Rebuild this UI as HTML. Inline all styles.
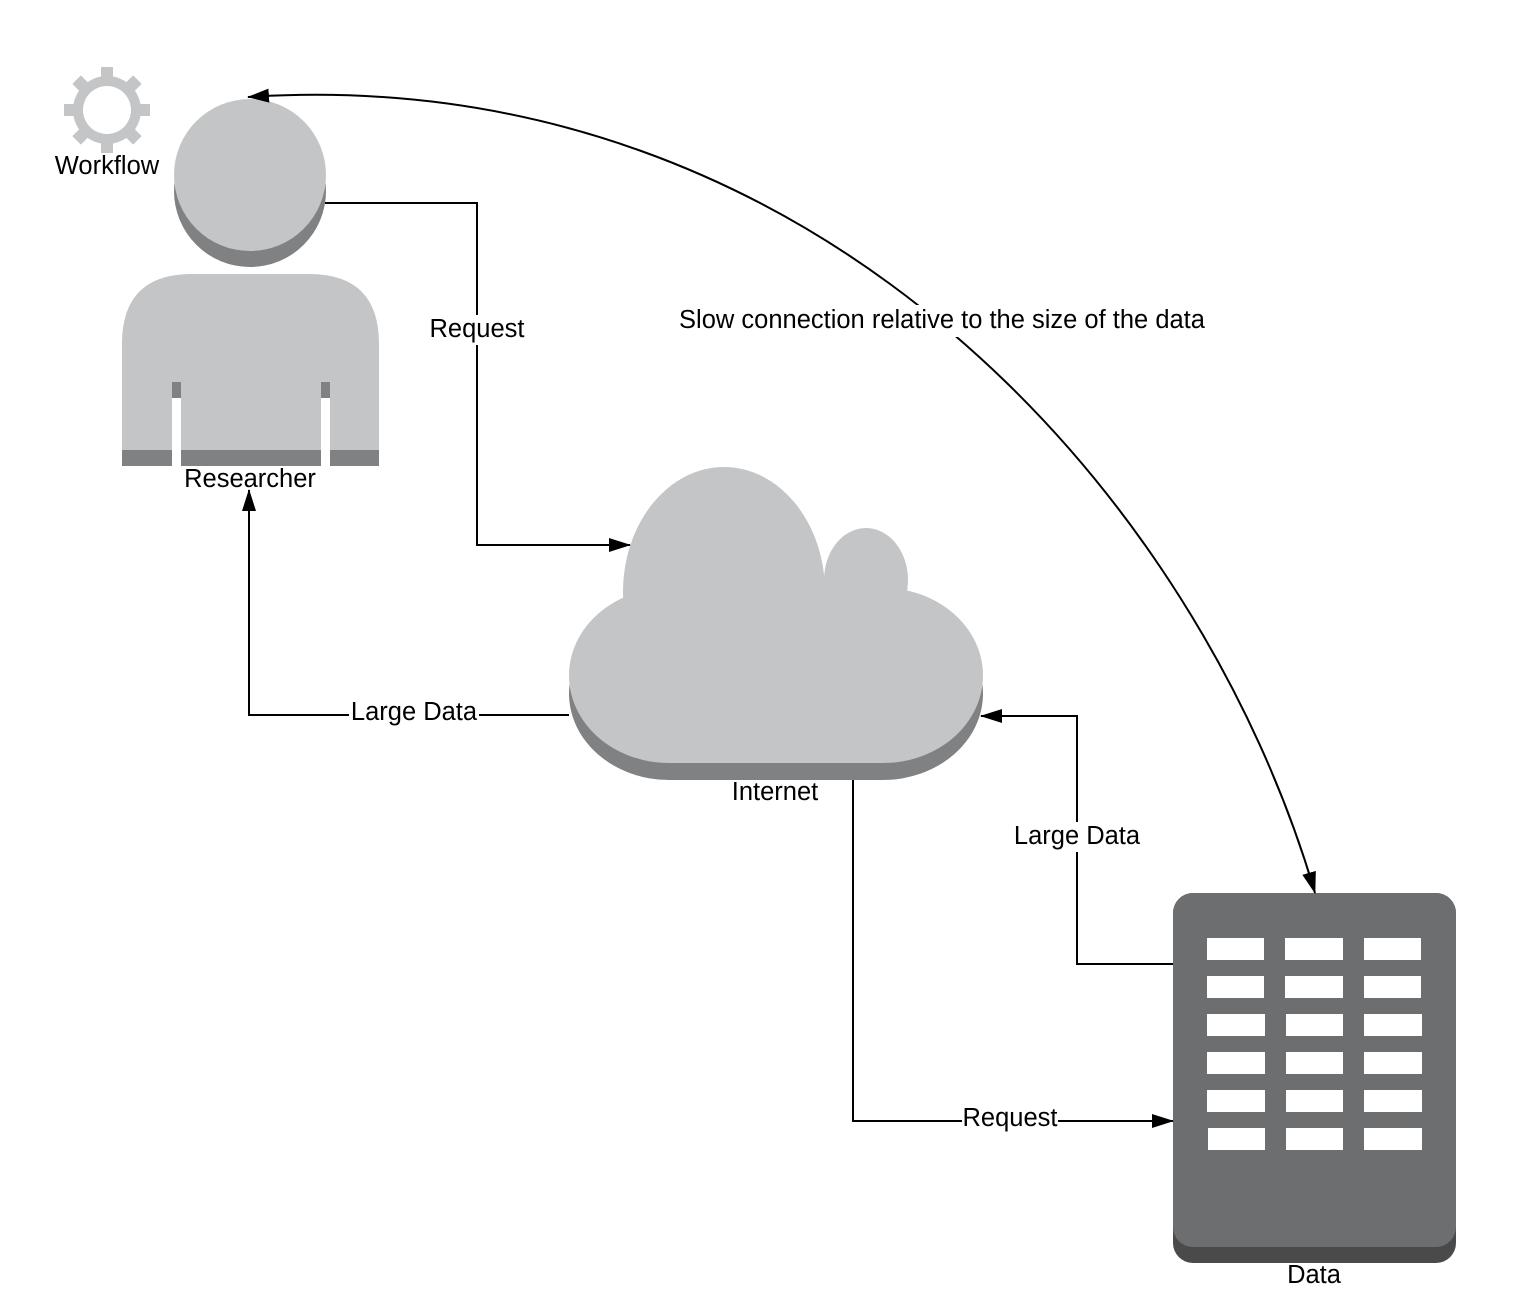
<!DOCTYPE html>
<html><head><meta charset="utf-8"><style>
html,body{margin:0;padding:0;background:#fff;}
svg{display:block;}
text{font-family:"Liberation Sans",sans-serif;font-size:25.5px;fill:#000;}
</style></head><body>
<svg width="1518" height="1303" viewBox="0 0 1518 1303" xmlns="http://www.w3.org/2000/svg">
<defs>
<marker id="ar2" markerWidth="22" markerHeight="14" refX="21" refY="7" orient="auto-start-reverse" markerUnits="userSpaceOnUse" viewBox="0 0 22 14">
<path d="M0,0 L22,7 L0,14 z" fill="#000"/>
</marker>
</defs>

<!-- Gear -->
<g fill="#c4c5c7">
<g transform="translate(107,110)">
<rect x="-6" y="-43" width="12" height="86"/>
<rect x="-43" y="-6" width="86" height="12"/>
<rect x="-6" y="-43" width="12" height="86" transform="rotate(45)"/>
<rect x="-6" y="-43" width="12" height="86" transform="rotate(-45)"/>
<circle r="34"/>
<circle r="24" fill="#fff"/>
</g>
</g>
<text x="107" y="174" text-anchor="middle">Workflow</text>

<!-- Person -->
<circle cx="250" cy="191" r="76" fill="#808182"/>
<circle cx="250" cy="175" r="76" fill="#c4c5c7"/>
<path d="M122,466 L122,344 Q122,274 192,274 L309,274 Q379,274 379,344 L379,466 Z" fill="#c4c5c7"/>
<rect x="122" y="450" width="257" height="16" fill="#808182"/>
<rect x="172" y="382" width="9" height="16" fill="#808182"/>
<rect x="172" y="398" width="9" height="70" fill="#fff"/>
<rect x="321" y="382" width="9" height="16" fill="#808182"/>
<rect x="321" y="398" width="9" height="70" fill="#fff"/>
<text x="250" y="487" text-anchor="middle">Researcher</text>

<!-- Cloud -->
<rect x="569" y="607" width="414" height="173" rx="100" ry="90" fill="#808182"/>
<ellipse cx="724" cy="592" rx="101" ry="125" fill="#c4c5c7"/>
<ellipse cx="866" cy="580" rx="42" ry="52" fill="#c4c5c7"/>
<rect x="569" y="588" width="414" height="175" rx="100" ry="90" fill="#c4c5c7"/>
<text x="775" y="800" text-anchor="middle">Internet</text>

<!-- Data -->
<rect x="1173" y="893" width="283" height="370" rx="20" fill="#4a4a4b"/>
<rect x="1173" y="893" width="283" height="354" rx="20" fill="#6d6e70"/>
<g fill="#fff">
<rect x="1207" y="938" width="57" height="22"/><rect x="1285" y="938" width="58" height="22"/><rect x="1364" y="938" width="57" height="22"/>
<rect x="1207" y="976" width="57" height="22"/><rect x="1285" y="976" width="58" height="22"/><rect x="1364" y="976" width="57" height="22"/>
<rect x="1207" y="1014" width="58" height="22"/><rect x="1286" y="1014" width="57" height="22"/><rect x="1364" y="1014" width="58" height="22"/>
<rect x="1207" y="1052" width="58" height="22"/><rect x="1286" y="1052" width="57" height="22"/><rect x="1364" y="1052" width="58" height="22"/>
<rect x="1207" y="1090" width="58" height="22"/><rect x="1286" y="1090" width="57" height="22"/><rect x="1364" y="1090" width="58" height="22"/>
<rect x="1208" y="1128" width="57" height="22"/><rect x="1286" y="1128" width="57" height="22"/><rect x="1364" y="1128" width="58" height="22"/>
</g>
<text x="1314" y="1283" text-anchor="middle">Data</text>

<!-- Connectors -->
<g fill="none" stroke="#000" stroke-width="2">
<path d="M325,203 L477,203 L477,545 L630,545" marker-end="url(#ar2)"/>
<path d="M569,715 L249,715 L249,490" marker-end="url(#ar2)"/>
<path d="M1173,964 L1077,964 L1077,716 L981,716" marker-end="url(#ar2)"/>
<path d="M853,780 L853,1121 L1173,1121" marker-end="url(#ar2)"/>
<path d="M248,97 C820,60 1200,500 1315,893" marker-start="url(#ar2)" marker-end="url(#ar2)"/>
</g>

<!-- Labels -->
<rect x="428" y="315" width="98" height="30" fill="#fff"/>
<text x="477" y="337" text-anchor="middle">Request</text>
<rect x="349" y="698" width="130" height="30" fill="#fff"/>
<text x="414" y="720" text-anchor="middle">Large Data</text>
<rect x="1012" y="822" width="130" height="30" fill="#fff"/>
<text x="1077" y="844" text-anchor="middle">Large Data</text>
<rect x="962" y="1104" width="96" height="30" fill="#fff"/>
<text x="1010" y="1126" text-anchor="middle">Request</text>
<rect x="677" y="305" width="530" height="32" fill="#fff"/>
<text x="942" y="328" text-anchor="middle">Slow connection relative to the size of the data</text>
</svg>
</body></html>
